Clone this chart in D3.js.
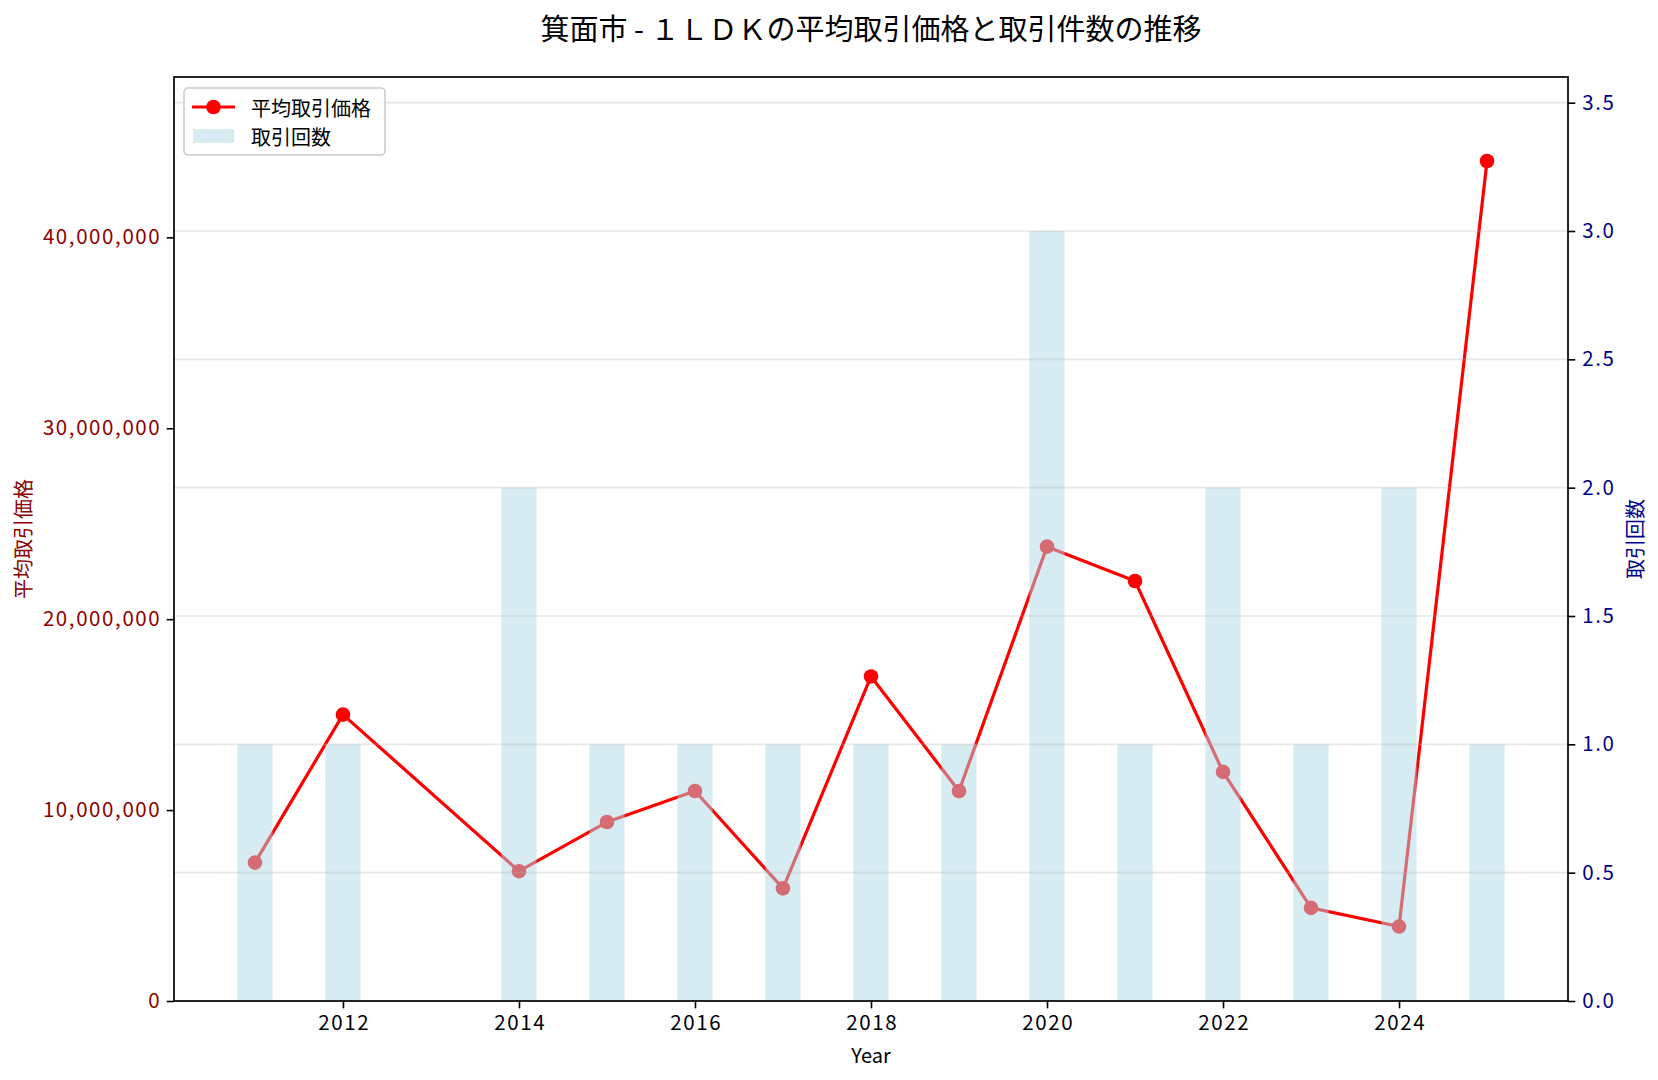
<!DOCTYPE html>
<html>
<head>
<meta charset="utf-8">
<script src="https://cdn.jsdelivr.net/npm/d3@7"></script>
<style>
  body { margin: 0; background: #fff; }
  svg text { font-family: "Noto Sans CJK JP", "Noto Sans", sans-serif; }
</style>
</head>
<body>
<svg id="chart" width="1658" height="1080"></svg>
<script>
const years = [2011, 2012, 2014, 2015, 2016, 2017, 2018, 2019, 2020, 2021, 2022, 2023, 2024, 2025];
const avgPrice = [7250000, 15000000, 6800000, 9375000, 11000000, 5900000, 17000000, 11000000, 23800000, 22000000, 12000000, 4880000, 3900000, 44000000];
const counts = [1, 1, 2, 1, 1, 1, 1, 1, 3, 1, 2, 1, 2, 1];
const xTicks = [2012, 2014, 2016, 2018, 2020, 2022, 2024];
const priceTicks = [0, 10000000, 20000000, 30000000, 40000000];
const countTicks = [0, 0.5, 1, 1.5, 2, 2.5, 3, 3.5];

const margin = { top: 77, bottom: 79, left: 174, right: 90 };
const W = 1658, H = 1080;
const width = W - margin.left - margin.right;
const height = H - margin.top - margin.bottom;

const svg = d3.select("#chart");
const g = svg.append("g").attr("transform", `translate(${margin.left},${margin.top})`);

const data = years.map((year, i) => ({ year, price: avgPrice[i], count: counts[i] }));

// matplotlib-style 5% margins around bars (width 0.4)
const xMin = d3.min(years) - 0.2, xMax = d3.max(years) + 0.2;
const pad = (xMax - xMin) * 0.05;
const xScale = d3.scaleLinear().domain([xMin - pad, xMax + pad]).range([0, width]);
const yPrice = d3.scaleLinear().domain([0, d3.max(avgPrice) * 1.1]).range([height, 0]);
const yCount = d3.scaleLinear().domain([0, d3.max(counts) * 1.2]).range([height, 0]);

const RED = "#ff0000";
const DARKRED = "#8b0000";
const DARKBLUE = "#00008b";

// price line (ax1, underneath)
const line = d3.line().x(d => xScale(d.year)).y(d => yPrice(d.price));
g.append("path")
  .datum(data)
  .attr("d", line)
  .attr("fill", "none")
  .attr("stroke", RED)
  .attr("stroke-width", 3.2)
  .attr("stroke-linejoin", "round");

g.selectAll(".dot")
  .data(data)
  .join("circle")
  .attr("class", "dot")
  .attr("cx", d => xScale(d.year))
  .attr("cy", d => yPrice(d.price))
  .attr("r", 7.3)
  .attr("fill", RED);

// count bars (ax2, on top, semi transparent)
g.selectAll(".bar")
  .data(data)
  .join("rect")
  .attr("class", "bar")
  .attr("x", d => xScale(d.year - 0.2))
  .attr("y", d => yCount(d.count))
  .attr("width", d => xScale(d.year + 0.2) - xScale(d.year - 0.2))
  .attr("height", d => height - yCount(d.count))
  .attr("fill", "#add8e6")
  .attr("fill-opacity", 0.5);

// grid from right axis
g.append("g")
  .selectAll("line")
  .data(countTicks)
  .join("line")
  .attr("x1", 0)
  .attr("x2", width)
  .attr("y1", d => yCount(d))
  .attr("y2", d => yCount(d))
  .attr("stroke", "#b0b0b0")
  .attr("stroke-opacity", 0.3)
  .attr("stroke-width", 1.6);

// axes
const xAxis = g.append("g")
  .attr("transform", `translate(0,${height})`)
  .call(d3.axisBottom(xScale).tickValues(xTicks).tickFormat(d3.format("d")).tickSize(7.3).tickPadding(7));
const leftAxis = g.append("g")
  .call(d3.axisLeft(yPrice).tickValues(priceTicks).tickFormat(d3.format(",")).tickSize(7.3).tickPadding(7));
const rightAxis = g.append("g")
  .attr("transform", `translate(${width},0)`)
  .call(d3.axisRight(yCount).tickValues(countTicks).tickFormat(d3.format(".1f")).tickSize(7.3).tickPadding(7));

[xAxis, leftAxis, rightAxis].forEach(ax => {
  ax.select(".domain").remove();
  ax.selectAll(".tick line").attr("stroke", "#000").attr("stroke-width", 1.6);
  ax.selectAll(".tick text")
    .attr("font-size", 20.5)
    .attr("letter-spacing", 1.6)
    .attr("fill", "#000");
});
leftAxis.selectAll(".tick text").attr("fill", DARKRED).attr("dx", 1.6);
rightAxis.selectAll(".tick text").attr("fill", DARKBLUE);
xAxis.selectAll(".tick text").attr("dx", 0.8);

// frame
g.append("rect")
  .attr("width", width)
  .attr("height", height)
  .attr("fill", "none")
  .attr("stroke", "#000")
  .attr("stroke-width", 1.7);

// labels
svg.append("text")
  .attr("x", margin.left + width / 2)
  .attr("y", 27)
  .attr("text-anchor", "middle")
  .attr("dominant-baseline", "central")
  .attr("font-size", 29)
  .text("箕面市 - １ＬＤＫの平均取引価格と取引件数の推移");

svg.append("text")
  .attr("x", margin.left + width / 2)
  .attr("y", 1054)
  .attr("text-anchor", "middle")
  .attr("dominant-baseline", "central")
  .attr("font-size", 20)
  .text("Year");

svg.append("text")
  .attr("transform", `translate(22,${margin.top + height / 2}) rotate(-90)`)
  .attr("text-anchor", "middle")
  .attr("dominant-baseline", "central")
  .attr("font-size", 20)
  .attr("fill", DARKRED)
  .text("平均取引価格");

svg.append("text")
  .attr("transform", `translate(1634,${margin.top + height / 2}) rotate(-90)`)
  .attr("text-anchor", "middle")
  .attr("dominant-baseline", "central")
  .attr("font-size", 20)
  .attr("fill", DARKBLUE)
  .text("取引回数");

// legend
const lg = svg.append("g").attr("transform", "translate(184,88)");
lg.append("rect")
  .attr("width", 201)
  .attr("height", 67)
  .attr("rx", 4)
  .attr("fill", "#fff")
  .attr("fill-opacity", 0.8)
  .attr("stroke", "#cccccc")
  .attr("stroke-width", 1.6);
lg.append("line")
  .attr("x1", 8).attr("x2", 51).attr("y1", 19).attr("y2", 19)
  .attr("stroke", RED).attr("stroke-width", 3.2);
lg.append("circle").attr("cx", 29.5).attr("cy", 19).attr("r", 7.3).attr("fill", RED);
lg.append("text")
  .attr("x", 67).attr("y", 19)
  .attr("dominant-baseline", "central")
  .attr("font-size", 20)
  .text("平均取引価格");
lg.append("rect")
  .attr("x", 9).attr("y", 41).attr("width", 41).attr("height", 14)
  .attr("fill", "#add8e6").attr("fill-opacity", 0.5);
lg.append("text")
  .attr("x", 67).attr("y", 48)
  .attr("dominant-baseline", "central")
  .attr("font-size", 20)
  .text("取引回数");
</script>
</body>
</html>
